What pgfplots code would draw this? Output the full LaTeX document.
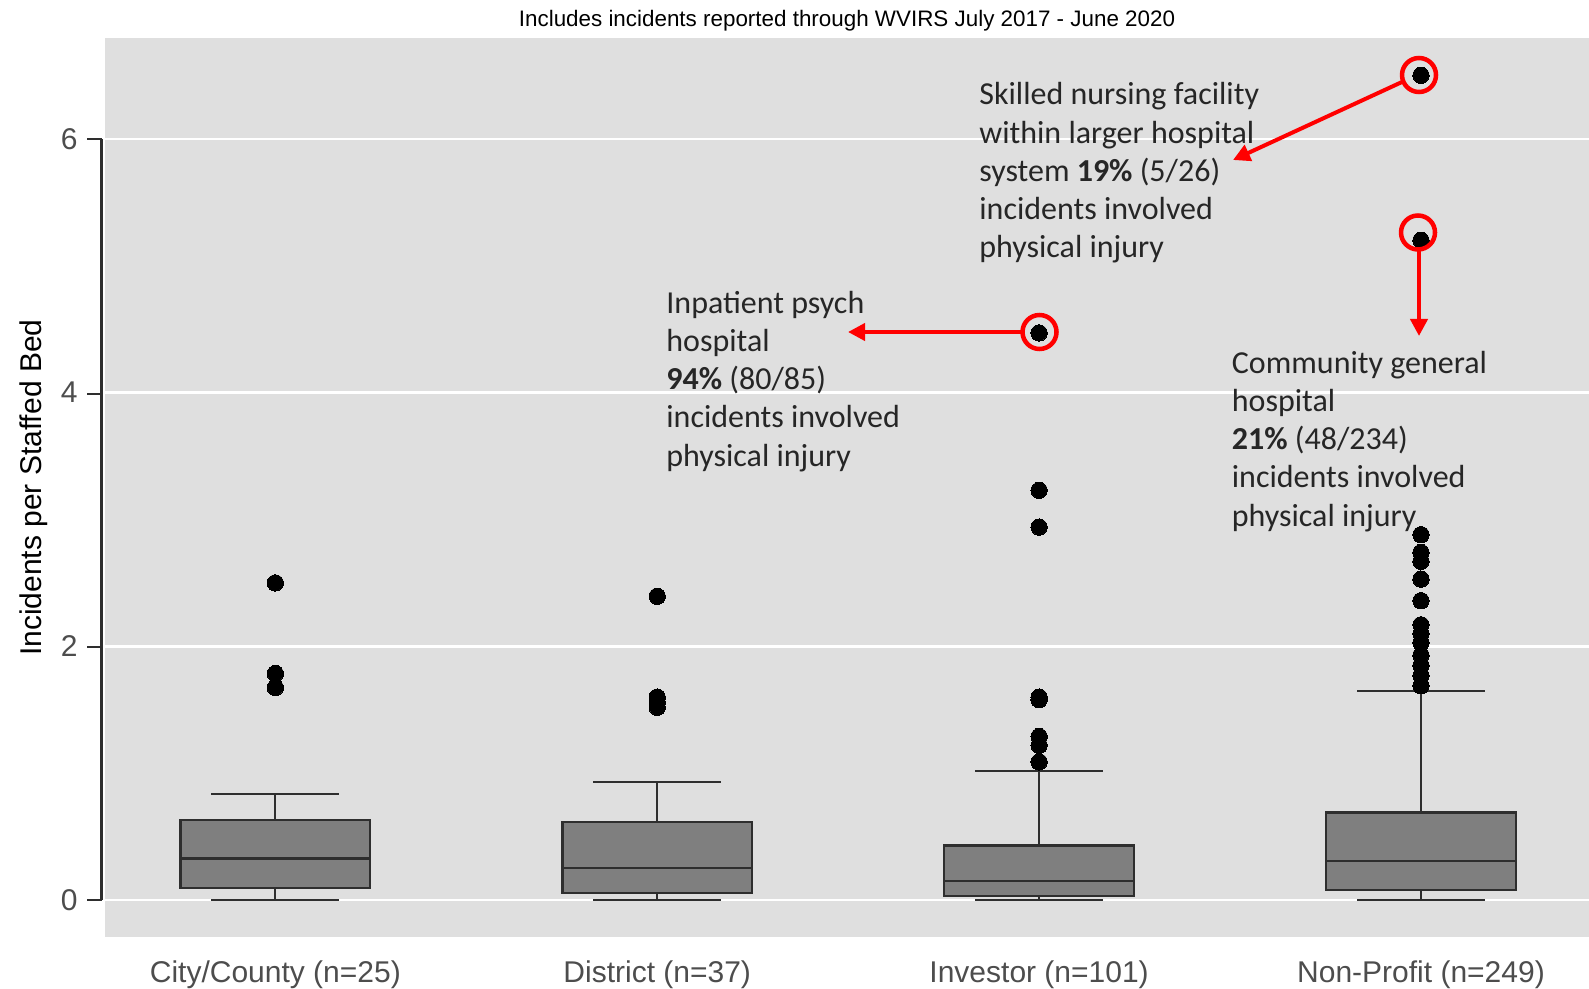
\documentclass[border=0pt]{standalone}
\usepackage{pgfplots}
\pgfplotsset{compat=1.18}
\usepgfplotslibrary{statistics}
\usetikzlibrary{arrows.meta}
\usepackage{fontspec}
\setmainfont{Liberation Sans}
\newfontfamily\calibri{Carlito}
\definecolor{panel}{HTML}{DFDFDF}
\definecolor{tickgray}{HTML}{4D4D4D}
\definecolor{boxfill}{HTML}{7F7F7F}
\definecolor{boxedge}{HTML}{2E2E2E}
\definecolor{annot}{HTML}{262626}
\definecolor{redann}{HTML}{FF0000}
\begin{document}
\begin{tikzpicture}
\useasboundingbox (0,0) rectangle (794.5pt,-494.5pt);
\begin{axis}[
  at={(52.5pt,-468.5pt)}, anchor=south west,
  scale only axis, width=742pt, height=449.25pt,
  xmin=0.554, xmax=4.44, ymin=-0.29, ymax=6.79,
  axis background/.style={fill=panel},
  axis line style={draw=none},
  xtick={1,2,3,4},
  xticklabels={City/County (n=25), District (n=37), Investor (n=101), Non-Profit (n=249)},
  ytick={0,2,4,6},
  major tick length=0pt,
  ymajorgrids, major grid style={white, line width=1.2pt},
  /pgf/number format/assume math mode=true,
  tick label style={text=tickgray, font=\fontsize{15}{18}\selectfont},
  yticklabel style={anchor=east, inner sep=0pt, xshift=-13.5pt},
  xticklabel style={anchor=base, inner sep=0pt, yshift=-22.5pt},
  ylabel={Incidents per Staffed Bed},
  ylabel style={at={(axis description cs:-0.0482,0.5)}, anchor=center, font=\fontsize{15}{18}\selectfont, text=black},
  boxplot/draw direction=y,
  boxplot/box extend=0.497,
  boxplot/whisker extend=0.335,
  boxplot/every box/.style={fill=boxfill, draw=boxedge, line width=1.2pt},
  boxplot/every whisker/.style={draw=boxedge, line width=1.1pt},
  boxplot/every median/.style={draw=boxedge, line width=1.2pt},
]
\addplot[draw=boxedge, mark=*, mark size=4.1pt, mark options={fill=black, draw=black, line width=0pt},
  boxplot prepared={draw position=1, lower whisker=0, lower quartile=0.097, median=0.328, upper quartile=0.630, upper whisker=0.84}]
  coordinates {(1,2.50) (1,1.786) (1,1.676)};
\addplot[draw=boxedge, mark=*, mark size=4.1pt, mark options={fill=black, draw=black, line width=0pt},
  boxplot prepared={draw position=2, lower whisker=0, lower quartile=0.056, median=0.255, upper quartile=0.615, upper whisker=0.934}]
  coordinates {(2,2.395) (2,1.60) (2,1.56) (2,1.52)};
\addplot[draw=boxedge, mark=*, mark size=4.1pt, mark options={fill=black, draw=black, line width=0pt},
  boxplot prepared={draw position=3, lower whisker=0, lower quartile=0.032, median=0.152, upper quartile=0.431, upper whisker=1.02}]
  coordinates {(3,4.47) (3,3.23) (3,2.94) (3,1.60) (3,1.58) (3,1.29) (3,1.22) (3,1.09)};
\addplot[draw=boxedge, mark=*, mark size=4.1pt, mark options={fill=black, draw=black, line width=0pt},
  boxplot prepared={draw position=4, lower whisker=0, lower quartile=0.079, median=0.307, upper quartile=0.691, upper whisker=1.646}]
  coordinates {(4,6.50) (4,5.20) (4,2.88) (4,2.74) (4,2.67) (4,2.53) (4,2.36) (4,2.17) (4,2.10) (4,2.03) (4,1.93) (4,1.85) (4,1.77) (4,1.69)};
\end{axis}
\begin{scope}[x=0.5pt, y=-0.5pt]
  % title
  \node[anchor=base, inner sep=0pt, font=\fontsize{11.2}{13}\selectfont, text=black] at (847,26.5) {Includes incidents reported through WVIRS July 2017 - June 2020};
  % y axis line and ticks
  \draw[boxedge, line width=1.2pt] (101.5,900.2) -- (101.5,138.8);
  \foreach \yy in {900.2,647.0,393.9,138.8} \draw[boxedge, line width=1.1pt] (87,\yy) -- (101.5,\yy);
  % red circles and arrows
  \draw[redann, line width=2.25pt] (1419,75) circle[radius=8.5pt];
  \draw[redann, line width=2.25pt] (1418,232.5) circle[radius=8.5pt];
  \draw[redann, line width=2.25pt] (1039.5,332) circle[radius=8.5pt];
  \draw[redann, line width=2pt, -{Triangle[length=8.5pt, width=8.5pt]}] (1402,82) -- (1233,160);
  \draw[redann, line width=2pt, -{Triangle[length=8.5pt, width=8.5pt]}] (1419,251) -- (1419,336);
  \draw[redann, line width=2pt, -{Triangle[length=8.5pt, width=8.5pt]}] (1022,332) -- (848,332);
  % annotations
  \tikzset{anno/.style={anchor=base west, inner sep=0pt, text=annot, font=\calibri\fontsize{16}{19.2}\selectfont}}
  \node[anno] at (979,105.0) {Skilled nursing facility};
  \node[anno] at (979,143.2) {within larger hospital};
  \node[anno] at (979,181.4) {system \textbf{19\%} (5/26)};
  \node[anno] at (979,219.6) {incidents involved};
  \node[anno] at (979,257.8) {physical injury};
  \node[anno] at (666,313.3) {Inpatient psych};
  \node[anno] at (666,351.5) {hospital};
  \node[anno] at (666,389.7) {\textbf{94\%} (80/85)};
  \node[anno] at (666,427.9) {incidents involved};
  \node[anno] at (666,466.1) {physical injury};
  \node[anno] at (1231.5,373.3) {Community general};
  \node[anno] at (1231.5,411.5) {hospital};
  \node[anno] at (1231.5,449.7) {\textbf{21\%} (48/234)};
  \node[anno] at (1231.5,487.9) {incidents involved};
  \node[anno] at (1231.5,526.1) {physical injury};
\end{scope}
\end{tikzpicture}
\end{document}
